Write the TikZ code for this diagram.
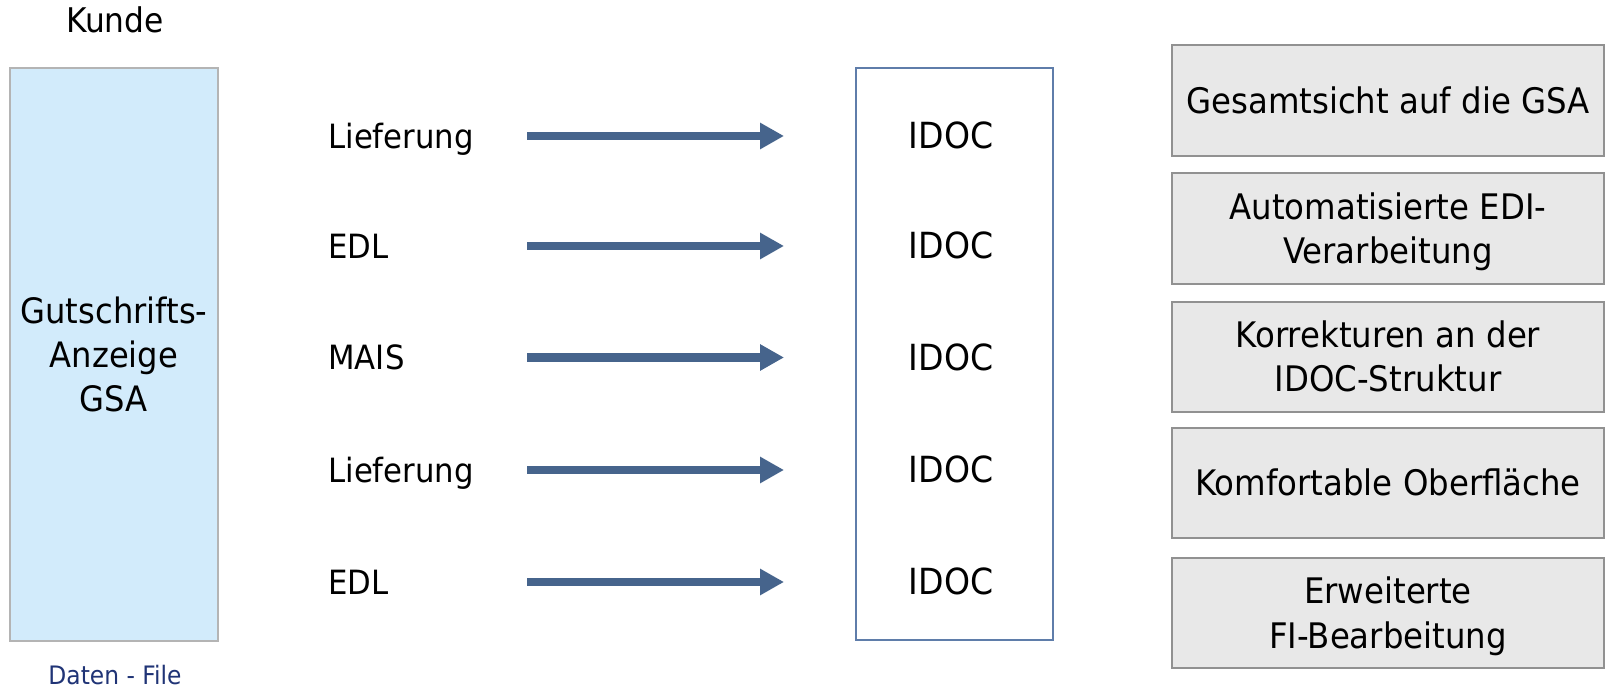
\documentclass[tikz,border=0pt]{standalone}
\usepackage{fontspec}
\setmainfont{DejaVu Sans}[FakeStretch=0.92]
\usetikzlibrary{arrows.meta}
\definecolor{arrowblue}{RGB}{70,100,140}
\definecolor{idocline}{RGB}{95,125,170}
\definecolor{gsafill}{RGB}{210,235,251}
\definecolor{gsaline}{RGB}{180,180,180}
\definecolor{featfill}{RGB}{232,232,232}
\definecolor{featline}{RGB}{145,145,145}
\definecolor{navy}{RGB}{32,52,118}
\begin{document}
\begin{tikzpicture}[x=0.5pt,y=-0.5pt,
  plainbox/.style={rectangle,inner sep=0pt,outer sep=0pt},
  gsabox/.style={plainbox,draw=gsaline,fill=gsafill,line width=0.6pt,minimum width=104pt,minimum height=286.5pt},
  idocbox/.style={plainbox,draw=idocline,line width=0.75pt,minimum width=98.5pt,minimum height=286pt},
  featbox/.style={plainbox,draw=featline,fill=featfill,line width=0.8pt,minimum width=216pt,minimum height=55.25pt},
  txt/.style={inner sep=0pt,anchor=base},
  lbl/.style={inner sep=0pt,anchor=base west,font=\fontsize{16.7pt}{20pt}\selectfont},
  idoc/.style={txt,font=\fontsize{18pt}{21pt}\selectfont},
  feat/.style={txt,font=\fontsize{17.6pt}{22pt}\selectfont},
  flow/.style={draw=arrowblue,line width=4.25pt,-{Triangle[length=12pt,width=12.5pt]}}
]
\useasboundingbox (0,0) rectangle (1605,688);

% left column
\node[txt,font=\fontsize{17pt}{20pt}\selectfont] (kunde) at (115,33) {Kunde};
\node[gsabox] (gsa) at (114,354.5) {};
\node[txt,font=\fontsize{17.5pt}{21pt}\selectfont] (g1) at (114,324) {Gutschrifts-};
\node[txt,font=\fontsize{17.5pt}{21pt}\selectfont] (g2) at (114,368) {Anzeige};
\node[txt,font=\fontsize{17.5pt}{21pt}\selectfont] (g3) at (114,412) {GSA};
\node[txt,text=navy,font=\fontsize{12.7pt}{15pt}\selectfont] (daten) at (115,684) {Daten - File};

% IDOC box
\node[idocbox] (idocframe) at (954.5,354) {};

% rows
\foreach \i/\y/\t in {1/136/Lieferung,2/246/EDL,3/357.5/MAIS,4/470/Lieferung,5/582/EDL}{
  \node[lbl] (l\i) at (328,\y+12.5) {\t};
  \coordinate (s\i) at (527,\y);
  \coordinate (e\i) at (784,\y);
  \draw[flow] (s\i) -- (e\i);
  \node[idoc] (d\i) at (951,\y+13) {IDOC};
}

% feature boxes
\node[featbox] (b1) at (1388,100.5) {};
\node[featbox] (b2) at (1388,228.5) {};
\node[featbox] (b3) at (1388,357) {};
\node[featbox] (b4) at (1388,483) {};
\node[featbox] (b5) at (1388,613) {};

\node[feat] (t1) at (1388,113.5) {Gesamtsicht auf die GSA};
\node[feat] (t2a) at (1388,219.5) {Automatisierte EDI-};
\node[feat] (t2b) at (1388,263.5) {Verarbeitung};
\node[feat] (t3a) at (1388,348) {Korrekturen an der};
\node[feat] (t3b) at (1388,392) {IDOC-Struktur};
\node[feat] (t4) at (1388,496) {Komfortable Oberfläche};
\node[feat] (t5a) at (1388,604) {Erweiterte};
\node[feat] (t5b) at (1388,648) {FI-Bearbeitung};
\end{tikzpicture}
\end{document}
